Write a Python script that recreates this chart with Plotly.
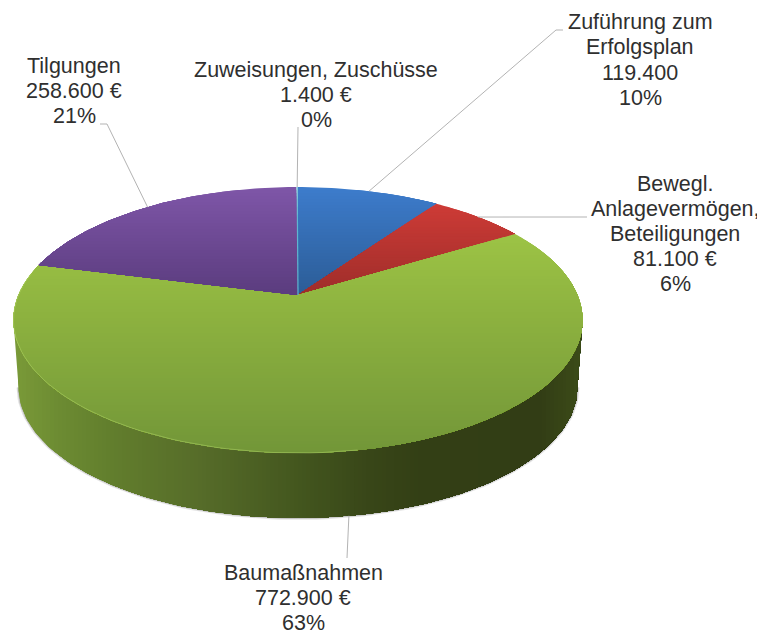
import math
import plotly.graph_objects as go

# ---- data ----
labels = [["Zuführung zum", "Erfolgsplan"], ["Bewegl.", "Anlagevermögen,", "Beteiligungen"],
          ["Baumaßnahmen"], ["Tilgungen"], ["Zuweisungen, Zuschüsse"]]
values = [119400, 81100, 772900, 258600, 1400]
value_labels = ["119.400", "81.100 €", "772.900 €", "258.600 €", "1.400 €"]
pct_labels = ["10%", "6%", "63%", "21%", "0%"]

# ---- styles and geometry (pixel-scaled axes; the page body has an 8px margin) ----
W, H, BODY = 765, 635, 8
CX, CY = 298.0, 295.0
A, B, K = 279.5, 128.3, 0.188   # perspective of the disc
LOW_S, LOW_D = 0.982, 67.8      # lower rim
top_grad = [
    [(187, "#3d7ccc"), (295, "#2b5c96")],
    [(205, "#cd3b36"), (295, "#9e2d2a")],
    [(235, "#9cc345"), (320, "#8cb13f"), (453, "#729638")],
    [(187, "#7f56a8"), (290, "#5c3d80")],
    [(187, "#5fb6d0"), (295, "#5fb6d0")],
]
side_grad = [(14, "#7a9a38"), (60, "#6c8b32"), (110, "#627e2d"), (200, "#566c29"),
             (300, "#43561e"), (370, "#384618"), (420, "#333f15"), (540, "#323d15"), (583, "#3c4c18")]
label_pos = [(640, 60), (675, 234), (303, 598), (74, 91), (316, 95)]
elbows = [[(556, 30), (563, 30)], [(587, 217)], [(347, 558)], [(107, 124), (100, 124)], [(298, 127)]]
TEXT_FONT = dict(family="Liberation Sans, Arial, sans-serif", size=21.5, color="#2f2f2f")
LINE_STEP = 25.2
LEADER = "#b3b3b3"


def project(theta, lower=False):
    u, v = math.sin(theta), math.cos(theta)
    d = 1 + K * v
    x, y = A * u / d, B * v / d
    if lower:
        return CX + x * LOW_S, CY - y * LOW_S + LOW_D
    return CX + x, CY - y


def lerp_color(stops, t):
    def rgb(c):
        return [int(c[i:i + 2], 16) for i in (1, 3, 5)]
    if t <= stops[0][0]:
        return stops[0][1]
    for (a, ca), (b, cb) in zip(stops, stops[1:]):
        if t <= b:
            f = (t - a) / (b - a)
            ra, rb = rgb(ca), rgb(cb)
            return "rgb(%d,%d,%d)" % tuple(round(p + (q - p) * f) for p, q in zip(ra, rb))
    return stops[-1][1]


def clip(poly, axis, limit, keep_above):
    """Keep the part of the polygon with coord >= limit (or <= limit)."""
    inside = (lambda p: p[axis] >= limit) if keep_above else (lambda p: p[axis] <= limit)
    out = []
    for i, p in enumerate(poly):
        q = poly[(i + 1) % len(poly)]
        if inside(p):
            out.append(p)
        if inside(p) != inside(q):
            f = (limit - p[axis]) / (q[axis] - p[axis])
            out.append((p[0] + (q[0] - p[0]) * f, p[1] + (q[1] - p[1]) * f))
    return out


def poly_trace(poly, color):
    xs = [p[0] for p in poly] + [poly[0][0]]
    ys = [p[1] for p in poly] + [poly[0][1]]
    return go.Scatter(x=xs, y=ys, mode="lines", fill="toself", fillcolor=color,
                      line=dict(width=0), hoverinfo="skip", showlegend=False)


def line_trace(pts, color, width):
    return go.Scatter(x=[p[0] for p in pts], y=[p[1] for p in pts], mode="lines",
                      line=dict(color=color, width=width), hoverinfo="skip", showlegend=False)


fig = go.Figure()
total = sum(values)
angles = [0.0]
for val in values:
    angles.append(angles[-1] + val / total * 2 * math.pi)

# widest points of the disc are where cos(theta) = -K
tangent = math.acos(-K)
N = 100
front = [tangent + (2 * math.pi - 2 * tangent) * j / N for j in range(N + 1)]
lower_rim = [project(t, True) for t in front]

# soft shadow around the lower rim
fig.add_trace(line_trace(lower_rim, "rgba(90,90,90,0.16)", 4))
fig.add_trace(line_trace(lower_rim, "rgba(90,90,90,0.25)", 2))

# side wall: painted left to right, each strip covering everything to its right
side_poly = lower_rim + [project(t) for t in reversed(front)]
for xk in range(14, 584, 4):
    part = clip(side_poly, 0, xk, True)
    if len(part) >= 3:
        fig.add_trace(poly_trace(part, lerp_color(side_grad, xk + 2)))

# top surface: each wedge painted top to bottom in vertical-gradient bands
for i in range(len(values)):
    n = max(2, int((angles[i + 1] - angles[i]) / math.radians(1)))
    wedge = [(CX, CY)] + [project(angles[i] + (angles[i + 1] - angles[i]) * j / n) for j in range(n + 1)]
    if values[i] / total < 0.01:
        fig.add_trace(line_trace([(CX, CY), project((angles[i] + angles[i + 1]) / 2)], top_grad[i][0][1], 1.2))
        continue
    y0 = min(p[1] for p in wedge)
    y1 = max(p[1] for p in wedge)
    y = y0
    while y < y1:
        part = clip(wedge, 1, y, True)
        if len(part) >= 3:
            fig.add_trace(poly_trace(part, lerp_color(top_grad[i], y + 1.5)))
        y += 3

# light highlight along the front-left rim
hl = [project(math.radians(a)) for a in range(170, 281, 2)]
fig.add_trace(line_trace(hl, "rgba(185,220,110,0.45)", 1))

# leader lines and labels
annotations = []
for i, lab in enumerate(labels):
    mid = (angles[i] + angles[i + 1]) / 2
    lower = math.cos(mid) < -0.5
    start = project(mid, lower)
    fig.add_trace(line_trace([start] + elbows[i], LEADER, 1))
    lines = lab + [value_labels[i], pct_labels[i]]
    for k, txt in enumerate(lines):
        annotations.append(dict(x=label_pos[i][0], y=label_pos[i][1] + (k - (len(lines) - 1) / 2) * LINE_STEP,
                                xref="x", yref="y", text=txt, showarrow=False, align="center",
                                font=TEXT_FONT, xanchor="center", yanchor="middle"))

fig.update_layout(
    width=W - BODY, height=H - BODY, margin=dict(l=0, r=0, t=0, b=0),
    paper_bgcolor="white", plot_bgcolor="white", showlegend=False,
    xaxis=dict(range=[BODY, W], visible=False, fixedrange=True),
    yaxis=dict(range=[H, BODY], visible=False, fixedrange=True),
    annotations=annotations,
)
fig.write_html("out.html", config={"displayModeBar": False})
